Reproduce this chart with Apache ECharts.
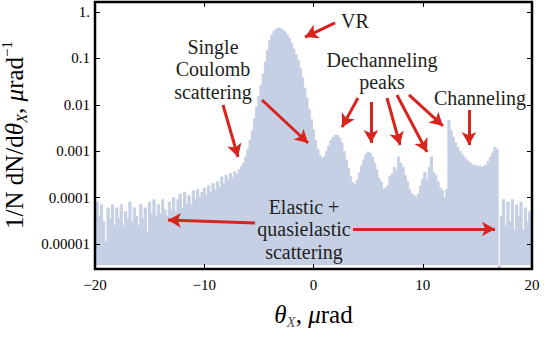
<!doctype html>
<html>
	<head>
		<meta charset="UTF-8">
		<title>Angular distribution</title>
		<script src="https://cdn.jsdelivr.net/npm/echarts@6/dist/echarts.min.js"></script>
		<style>
			html, body { margin: 0; padding: 0; background: #fff; }
			#chart { width: 545px; height: 342px; }
		</style>
	</head>
	<body>
		<div id="chart"></div>
		<script type="text/javascript">
			// deflection angle, microrad (bin centres)
			var angle = [
				-20.0, -19.8, -19.6, -19.4, -19.2, -19.0, -18.8, -18.6, -18.4, -18.2,
				-18.0, -17.8, -17.6, -17.4, -17.2, -17.0, -16.8, -16.6, -16.4, -16.2,
				-16.0, -15.8, -15.6, -15.4, -15.2, -15.0, -14.8, -14.6, -14.4, -14.2,
				-14.0, -13.8, -13.6, -13.4, -13.2, -13.0, -12.8, -12.6, -12.4, -12.2,
				-12.0, -11.8, -11.6, -11.4, -11.2, -11.0, -10.8, -10.6, -10.4, -10.2,
				-10.0, -9.8, -9.6, -9.4, -9.2, -9.0, -8.8, -8.6, -8.4, -8.2,
				-8.0, -7.8, -7.6, -7.4, -7.2, -7.0, -6.8, -6.6, -6.4, -6.2,
				-6.0, -5.8, -5.6, -5.4, -5.2, -5.0, -4.8, -4.6, -4.4, -4.2,
				-4.0, -3.8, -3.6, -3.4, -3.2, -3.0, -2.8, -2.6, -2.4, -2.2,
				-2.0, -1.8, -1.6, -1.4, -1.2, -1.0, -0.8, -0.6, -0.4, -0.2,
				0.0, 0.2, 0.4, 0.6, 0.8, 1.0, 1.2, 1.4, 1.6, 1.8,
				2.0, 2.2, 2.4, 2.6, 2.8, 3.0, 3.2, 3.4, 3.6, 3.8,
				4.0, 4.2, 4.4, 4.6, 4.8, 5.0, 5.2, 5.4, 5.6, 5.8,
				6.0, 6.2, 6.4, 6.6, 6.8, 7.0, 7.2, 7.4, 7.6, 7.8,
				8.0, 8.2, 8.4, 8.6, 8.8, 9.0, 9.2, 9.4, 9.6, 9.8,
				10.0, 10.2, 10.4, 10.6, 10.8, 11.0, 11.2, 11.4, 11.6, 11.8,
				12.0, 12.2, 12.4, 12.6, 12.8, 13.0, 13.2, 13.4, 13.6, 13.8,
				14.0, 14.2, 14.4, 14.6, 14.8, 15.0, 15.2, 15.4, 15.6, 15.8,
				16.0, 16.2, 16.4, 16.6, 16.8, 17.0, 17.2, 17.4, 17.6, 17.8,
				18.0, 18.2, 18.4, 18.6, 18.8, 19.0, 19.2, 19.4, 19.6, 19.8,
				20.0
			];

			// 1/N dN/dtheta, per microrad
			var density = [
				5e-5, 8e-5, 4e-5, 7e-5, 3e-5, 1.1e-5, 6e-5, 3.5e-5, 7e-5, 2.5e-5,
				6e-5, 3.5e-5, 7e-5, 2.5e-5, 5e-5, 3.5e-5, 8e-5, 3e-5, 6e-5, 4e-5,
				2.5e-5, 7e-5, 3.5e-5, 6e-5, 1.8e-5, 8e-5, 4.5e-5, 9e-5, 4e-5, 7e-5,
				4.5e-5, 9e-5, 5.5e-5, 4e-5, 8e-5, 5.5e-5, 1e-4, 5e-5, 9e-5, 1.2e-4,
				6e-5, 1.3e-4, 7.5e-5, 1.1e-4, 7e-5, 1.4e-4, 9e-5, 1.5e-4, 1e-4, 1.3e-4,
				1.6e-4, 1.1e-4, 1.8e-4, 1.3e-4, 2e-4, 1.5e-4, 2.2e-4, 1.7e-4, 2.8e-4, 2e-4,
				3e-4, 2.4e-4, 3.3e-4, 2.7e-4, 3.6e-4, 3.1e-4, 4e-4, 4.6e-4, 5.5e-4, 7.5e-4,
				1.1e-3, 1.7e-3, 2.8e-3, 5e-3, 9e-3, 1.5e-2, 2.6e-2, 4.6e-2, 8.5e-2, 0.15,
				0.24, 0.32, 0.39, 0.43, 0.45, 0.44, 0.41, 0.37, 0.32, 0.27,
				0.21, 0.16, 0.12, 0.09, 0.06, 0.038, 0.023, 0.014, 8e-3, 4.8e-3,
				2.9e-3, 1.7e-3, 1.1e-3, 8e-4, 7e-4, 7.5e-4, 1e-3, 1.3e-3, 1.7e-3, 2e-3,
				2.2e-3, 2.2e-3, 1.9e-3, 1.5e-3, 1e-3, 6.5e-4, 4.2e-4, 2.8e-4, 2.1e-4, 1.9e-4,
				2.4e-4, 3.4e-4, 4.8e-4, 6.5e-4, 8.5e-4, 9.6e-4, 9e-4, 7.5e-4, 5.5e-4, 4e-4,
				2.6e-4, 2.2e-4, 1.5e-4, 1.6e-4, 1.8e-4, 2.8e-4, 3.2e-4, 4.5e-4, 3.8e-4, 7.5e-4,
				5.5e-4, 4.5e-4, 3e-4, 2.2e-4, 1.5e-4, 1.2e-4, 1.1e-4, 1e-4, 1.2e-4, 1.8e-4,
				2.5e-4, 3.5e-4, 2.5e-4, 4.5e-4, 7.5e-4, 3.5e-4, 3e-4, 2.2e-4, 1.6e-4, 1.4e-4,
				1e-4, 1.5e-4, 4.6e-3, 2.8e-3, 2e-3, 1.5e-3, 1.2e-3, 1e-3, 8.5e-4, 7.5e-4,
				6.5e-4, 6e-4, 5.5e-4, 5e-4, 5e-4, 4.6e-4, 4.8e-4, 4.5e-4, 4.7e-4, 5e-4,
				6e-4, 7.5e-4, 9e-4, 1.2e-3, 1.1e-3, 3e-6, 4e-5, 9e-5, 2.5e-5, 8e-5,
				3e-5, 9e-5, 2e-5, 7e-5, 4e-5, 8e-5, 2e-5, 6e-5, 3e-5, 5e-5,
				4e-5
			];

			var yTickLabels = ['0.00001', '0.0001', '0.001', '0.01', '0.1', '1.'];

			// annotation arrows [from, to] in data coordinates
			var arrows = [
				[[1.97, 0.58], [-0.78, 0.289]],          // VR
				[[-8.28, 0.0099], [-6.91, 7.5e-4]],      // single Coulomb
				[[-4.71, 0.0127], [-0.50, 0.0015]],
				[[4.07, 0.014], [2.61, 0.0033]],         // dechanneling peaks
				[[5.26, 0.0115], [5.26, 0.0015]],
				[[6.73, 0.014], [7.92, 0.00136]],
				[[7.64, 0.0163], [10.39, 9.6e-4]],
				[[8.74, 0.0163], [11.85, 0.0035]],
				[[14.23, 0.0077], [14.23, 0.00136]],     // channeling
				[[-5.35, 2.84e-5], [-13.32, 3.29e-5]],   // elastic
				[[3.62, 2.1e-5], [16.61, 2.1e-5]]
			];

			var notes = [
				{ text: 'VR', x: 355, y: 21 },
				{ text: 'Single\nCoulomb\nscattering', x: 213, y: 69 },
				{ text: 'Dechanneling\npeaks', x: 382, y: 71 },
				{ text: 'Channeling', x: 480, y: 98 },
				{ text: 'Elastic +\nquasielastic\nscattering', x: 304, y: 229 }
			];

			var serif = '"Liberation Serif", "DejaVu Serif", serif';
			var red = '#d8241d';
			var gridBox = { left: 95, top: 2, width: 437, height: 267 };

			var seriesData = [];
			for(var i = 0; i < angle.length; i++) {
				seriesData.push([angle[i], density[i]]);
			}

			var lines = [];
			for(var k = 0; k < arrows.length; k++) {
				lines.push([{ coord: arrows[k][0] }, { coord: arrows[k][1] }]);
			}

			var titleRich = {
				n: { fontFamily: serif, fontSize: 25, color: '#000', lineHeight: 30, verticalAlign: 'middle' },
				i: { fontFamily: serif, fontSize: 25, fontStyle: 'italic', color: '#000', lineHeight: 30, verticalAlign: 'middle' },
				s: { fontFamily: serif, fontSize: 15, fontStyle: 'italic', color: '#555', lineHeight: 15, verticalAlign: 'bottom' },
				p: { fontFamily: serif, fontSize: 15, color: '#000', lineHeight: 15, verticalAlign: 'top' }
			};

			var graphics = [];
			for(var n = 0; n < notes.length; n++) {
				graphics.push({
					type: 'text',
					x: notes[n].x,
					y: notes[n].y,
					z: 100,
					style: {
						text: notes[n].text,
						fill: '#231f20',
						fontFamily: serif,
						fontSize: 20,
						lineHeight: 22.5,
						align: 'center',
						verticalAlign: 'middle'
					}
				});
			}
			// y axis title, rotated
			graphics.push({
				type: 'text',
				x: 14,
				y: 135,
				rotation: Math.PI / 2,
				z: 100,
				style: {
					text: '{n|1/N dN/d}{i|θ}{s|X}{n|, }{i|μ}{n|rad}{p|−1}',
					rich: titleRich,
					align: 'center',
					verticalAlign: 'middle'
				}
			});
			// plot frame
			graphics.push({
				type: 'rect',
				z: 90,
				shape: { x: gridBox.left, y: gridBox.top, width: gridBox.width, height: gridBox.height },
				style: { fill: 'none', stroke: '#000', lineWidth: 2.5 }
			});

			function frameLine() {
				return { show: true, onZero: false, lineStyle: { color: '#000', width: 2 } };
			}
			function inTick() {
				return { show: true, inside: true, length: 5, lineStyle: { color: '#000', width: 1 } };
			}

			var option = {
				animation: false,
				backgroundColor: '#fff',
				grid: {
					left: gridBox.left,
					top: gridBox.top,
					width: gridBox.width,
					height: gridBox.height,
					containLabel: false,
					outerBoundsMode: 'none'
				},
				xAxis: [{
					type: 'value',
					min: -20,
					max: 20,
					interval: 10,
					position: 'bottom',
					z: 10,
					axisLine: frameLine(),
					axisTick: inTick(),
					splitLine: { show: false },
					axisLabel: {
						margin: 8,
						fontFamily: serif,
						fontSize: 15,
						color: '#000',
						formatter: function(v) {
							return String(v).replace('-', '\u2212');
						}
					},
					name: '{i|θ}{s|X}{n|, }{i|μ}{n|rad}',
					nameLocation: 'middle',
					nameGap: 30,
					nameTextStyle: { rich: titleRich }
				}, {
					type: 'value',
					min: -20,
					max: 20,
					interval: 10,
					position: 'top',
					z: 10,
					axisLine: frameLine(),
					axisTick: inTick(),
					axisLabel: { show: false },
					splitLine: { show: false }
				}],
				yAxis: [{
					type: 'log',
					min: 2.89e-6,
					max: 1.643,
					position: 'left',
					z: 10,
					axisLine: frameLine(),
					axisTick: inTick(),
					splitLine: { show: false },
					axisLabel: {
						margin: 5,
						fontFamily: serif,
						fontSize: 15,
						color: '#000',
						showMinLabel: false,
						showMaxLabel: false,
						formatter: function(v) {
							var idx = Math.round(Math.log10(v)) + 5;
							return yTickLabels[idx] || '';
						}
					}
				}, {
					type: 'log',
					min: 2.89e-6,
					max: 1.643,
					position: 'right',
					z: 10,
					axisLine: frameLine(),
					axisTick: inTick(),
					axisLabel: { show: false },
					splitLine: { show: false }
				}],
				graphic: graphics,
				series: [{
					type: 'line',
					step: 'middle',
					symbol: 'none',
					z: 2,
					data: seriesData,
					lineStyle: { width: 1, color: '#c6d0e4' },
					areaStyle: { color: '#c6d0e4', opacity: 1, origin: 3.5e-6 },
					markLine: {
						silent: true,
						symbol: ['none', 'arrow'],
						symbolSize: [11, 13],
						label: { show: false },
						lineStyle: { color: red, width: 3, type: 'solid' },
						data: lines
					}
				}]
			};

			var chart = echarts.init(document.getElementById('chart'), null, { renderer: 'svg' });
			chart.setOption(option);
		</script>
	</body>
</html>
